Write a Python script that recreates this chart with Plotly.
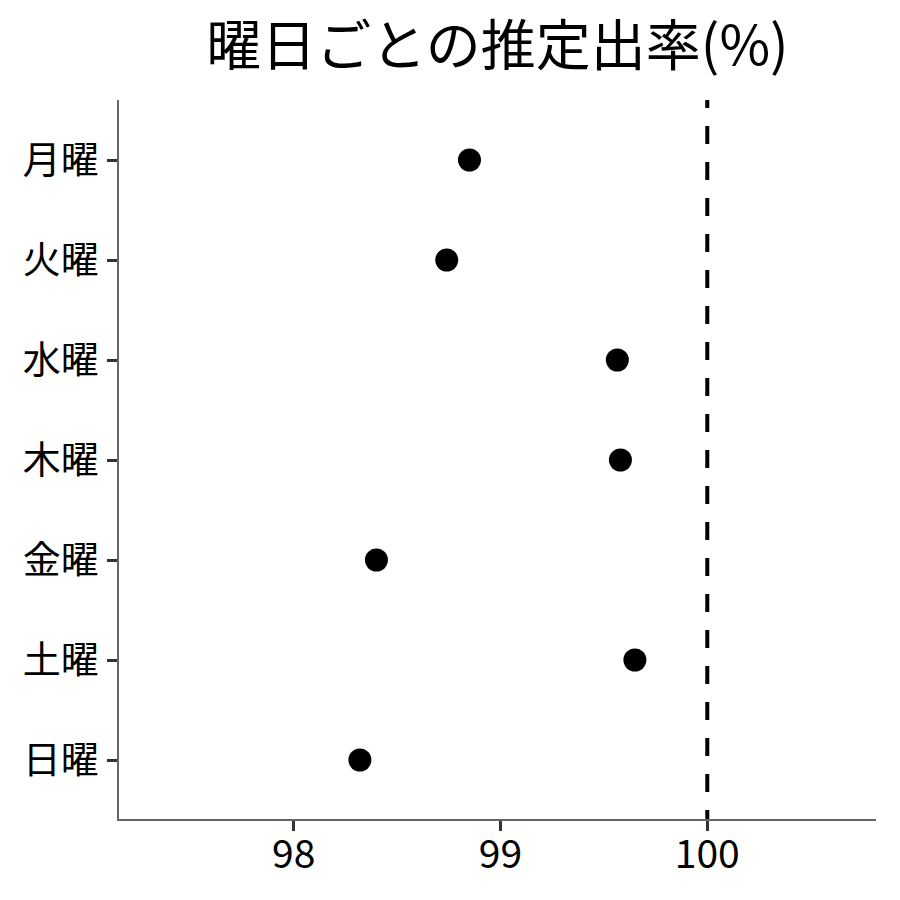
import plotly.graph_objects as go

# 曜日ごとの推定出率
days = ["月曜", "火曜", "水曜", "木曜", "金曜", "土曜", "日曜"]
rates = [98.85, 98.74, 99.565, 99.58, 98.40, 99.65, 98.32]
ref_line = 100
x_ticks = [98, 99, 100]

FONT = "Noto Sans CJK JP"

fig = go.Figure()
fig.add_trace(go.Scatter(
    x=rates, y=days, mode="markers",
    marker=dict(color="black", size=23),
    showlegend=False,
))
# reference line, drawn from slightly above the panel so the dash phase matches
fig.add_shape(type="line", xref="x", yref="y", x0=ref_line, x1=ref_line,
              y0=-0.7, y1=6.59, line=dict(color="black", width=4, dash="18px,18px"))

fig.update_layout(
    width=900, height=900,
    plot_bgcolor="white", paper_bgcolor="white",
    margin=dict(l=111, r=32, t=92, b=89),
    font=dict(family=FONT, color="black"),
    title=dict(text="曜日ごとの推定出率(%)", x=0.5, xref="paper", xanchor="center",
               y=0.958, yanchor="middle", font=dict(size=55, family=FONT)),
)
fig.update_xaxes(
    range=[97.155, 100.816], tickvals=x_ticks, showgrid=False, zeroline=False,
    showline=True, linecolor="#666666", linewidth=1.5,
    ticks="outside", ticklen=10, tickwidth=3, tickcolor="#333333",
    tickfont=dict(size=39, family=FONT), ticklabelstandoff=-10,
)
fig.update_yaxes(
    categoryorder="array", categoryarray=days, autorange=False,
    range=[6.59, -0.6], showgrid=False, zeroline=False,
    showline=True, linecolor="#666666", linewidth=1.5,
    ticks="outside", ticklen=10, tickwidth=3, tickcolor="#333333",
    tickfont=dict(size=38, family=FONT), ticklabelstandoff=1,
)

fig.write_html("out.html")
